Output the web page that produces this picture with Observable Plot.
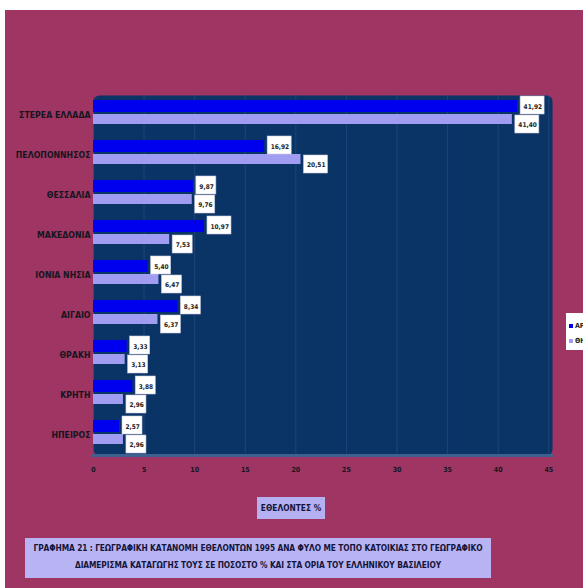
<!DOCTYPE html>
<html>
<head>
<meta charset="utf-8">
<script src="https://cdn.jsdelivr.net/npm/d3@7"></script>
<script src="https://cdn.jsdelivr.net/npm/@observablehq/plot@0.6"></script>
<style>
  html, body { margin: 0; padding: 0; width: 583px; height: 588px; overflow: hidden; background: #ffffff; }
  #bg { position: absolute; left: 5px; top: 10px; width: 578px; height: 578px; background: #9e3562; }
  #chart { position: absolute; left: 5px; top: 10px; }
  .box { position: absolute; font-family: "DejaVu Sans Condensed", "DejaVu Sans", sans-serif; font-weight: bold; color: #15153a; text-align: center; }
  #xtitle { left: 257px; top: 497px; width: 68px; height: 22px; line-height: 22px; background: #b4b0f2; font-size: 8.3px; white-space: nowrap; }
  #caption { left: 25px; top: 538px; width: 466px; height: 40px; background: #b8b4f4; font-size: 8.3px; line-height: 17px; padding-top: 2px; box-sizing: border-box; white-space: nowrap; letter-spacing: -0.1px; }
  #legend { left: 566px; top: 313px; width: 40px; height: 37px; background: #ffffff; text-align: left; font-size: 7px; color: #222; }
  #legend div { position: absolute; left: 3px; white-space: nowrap; }
  #legend span { display: inline-block; width: 4px; height: 4px; margin-right: 2px; vertical-align: middle; }
</style>
</head>
<body>
<div id="bg"></div>
<div id="chart"></div>
<div id="xtitle" class="box">ΕΘΕΛΟΝΤΕΣ %</div>
<div id="caption" class="box">ΓΡΑΦΗΜΑ 21 : ΓΕΩΓΡΑΦΙΚΗ ΚΑΤΑΝΟΜΗ ΕΘΕΛΟΝΤΩΝ 1995 ΑΝΑ ΦΥΛΟ ΜΕ ΤΟΠΟ ΚΑΤΟΙΚΙΑΣ ΣΤΟ ΓΕΩΓΡΑΦΙΚΟ<br>ΔΙΑΜΕΡΙΣΜΑ ΚΑΤΑΓΩΓΗΣ ΤΟΥΣ ΣΕ ΠΟΣΟΣΤΟ % ΚΑΙ ΣΤΑ ΟΡΙΑ ΤΟΥ ΕΛΛΗΝΙΚΟΥ ΒΑΣΙΛΕΙΟΥ</div>
<div id="legend" class="box"></div>
<script>
const regions = ["ΣΤΕΡΕΑ ΕΛΛΑΔΑ", "ΠΕΛΟΠΟΝΝΗΣΟΣ", "ΘΕΣΣΑΛΙΑ", "ΜΑΚΕΔΟΝΙΑ", "ΙΟΝΙΑ ΝΗΣΙΑ", "ΑΙΓΑΙΟ", "ΘΡΑΚΗ", "ΚΡΗΤΗ", "ΗΠΕΙΡΟΣ"];
const seriesNames = ["ΑΡΡΕΝΕΣ", "ΘΗΛΕΙΣ"];
const seriesA = [41.92, 16.92, 9.87, 10.97, 5.40, 8.34, 3.33, 3.88, 2.57];
const seriesB = [41.40, 20.51, 9.76, 7.53, 6.47, 6.37, 3.13, 2.96, 2.96];
const xTicks = [0, 5, 10, 15, 20, 25, 30, 35, 40, 45];
const colors = ["#0000ee", "#a09cf2"];

const dataA = regions.map((r, i) => ({region: r, series: seriesNames[0], value: seriesA[i]}));
const dataB = regions.map((r, i) => ({region: r, series: seriesNames[1], value: seriesB[i]}));
const fmt = v => v.toFixed(2).replace(".", ",");
const wide = d => d.value >= 10;
const narrow = d => d.value < 10;

const labelFont = {fontFamily: "DejaVu Sans Condensed, DejaVu Sans, sans-serif", fontSize: 6.5, fontWeight: "bold", fill: "#222"};

function boxes(data, top, bottom) {
  return [
    Plot.barX(data.filter(wide), {x1: "value", x2: "value", y: "region", insetLeft: 3, insetRight: -27, insetTop: top, insetBottom: bottom, fill: "white", stroke: "#c8c8dc", strokeWidth: 0.6}),
    Plot.barX(data.filter(narrow), {x1: "value", x2: "value", y: "region", insetLeft: 3, insetRight: -23, insetTop: top, insetBottom: bottom, fill: "white", stroke: "#c8c8dc", strokeWidth: 0.6})
  ];
}

const chart = Plot.plot({
  width: 578,
  height: 480,
  marginTop: 85,
  marginLeft: 88,
  marginRight: 31,
  marginBottom: 35,
  style: {background: "transparent"},
  x: {domain: [0, 45.37]},
  y: {domain: regions, padding: 0, axis: null},
  marks: [
    Plot.frame({fill: "#0a3366", rx: 6}),
    Plot.gridX(xTicks, {stroke: "#2c5486", strokeOpacity: 0.55}),
    Plot.frame({anchor: "bottom", stroke: "#3e6290", strokeWidth: 3}),
    Plot.barX(dataA, {x: "value", y: "region", fill: colors[0], insetTop: 5, insetBottom: 23}),
    Plot.barX(dataB, {x: "value", y: "region", fill: colors[1], insetTop: 19, insetBottom: 11}),
    ...boxes(dataA, 1, 21),
    ...boxes(dataB, 20, 2),
    Plot.text(dataA, {x: "value", y: "region", text: d => fmt(d.value), dx: 6, dy: -9, textAnchor: "start", ...labelFont}),
    Plot.text(dataB, {x: "value", y: "region", text: d => fmt(d.value), dx: 6, dy: 9, textAnchor: "start", ...labelFont}),
    Plot.axisY({tickSize: 0, tickPadding: 3, fontSize: 8.7, fontWeight: "bold", fill: "#151520", fontFamily: "DejaVu Sans Condensed, DejaVu Sans, sans-serif", label: null}),
    Plot.axisX({ticks: xTicks, tickSize: 0, tickPadding: 12, fontSize: 7, fontWeight: "bold", fill: "#151520", fontFamily: "DejaVu Sans Condensed, DejaVu Sans, sans-serif", label: null})
  ]
});
document.getElementById("chart").appendChild(chart);

const legend = document.getElementById("legend");
seriesNames.forEach((name, i) => {
  const row = document.createElement("div");
  row.style.top = (9 + i * 15) + "px";
  row.innerHTML = `<span style="background:${colors[i]}"></span>${name}`;
  legend.appendChild(row);
});
</script>
</body>
</html>
